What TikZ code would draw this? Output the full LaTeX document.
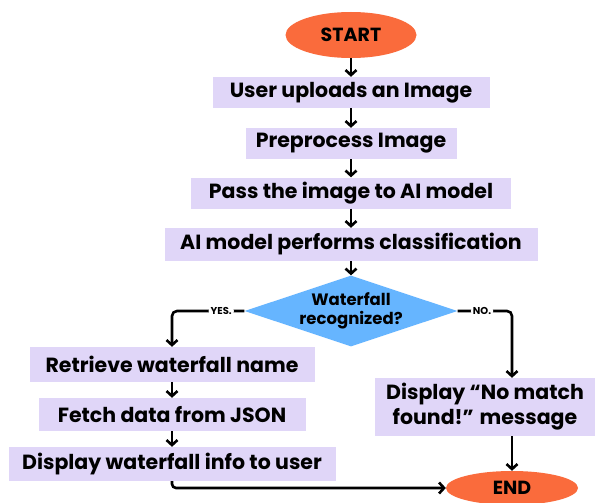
\documentclass[tikz,border=0pt]{standalone}
\usepackage{fontspec}
\setmainfont{Poppins}
\usepackage{xcolor}
\usepackage{tikz}
\usetikzlibrary{shapes.geometric, arrows.meta, positioning, calc}

\definecolor{termorange}{HTML}{FA6B3C}
\definecolor{proclav}{HTML}{E0D6F8}
\definecolor{decblue}{HTML}{66B5FF}

\tikzset{
  terminal/.style={ellipse, fill=termorange, inner sep=0pt, font=\fontsize{19}{22}\selectfont\bfseries},
  procbox/.style={rectangle, fill=proclav, inner sep=0pt, minimum height=31pt, font=\fontsize{20.5}{25}\selectfont\bfseries},
  decision/.style={diamond, aspect=3, fill=decblue, inner sep=0pt, minimum width=203pt, minimum height=67pt, align=center, font=\fontsize{16.5}{19}\selectfont\bfseries},
  flow/.style={draw=black, line width=2.6pt, -{Straight Barb[length=5pt,width=11pt]}},
  branch/.style={font=\fontsize{10}{11}\selectfont\bfseries, fill=white, inner sep=2pt}
}

\begin{document}
\begin{tikzpicture}[x=1pt, y=-1pt]
\useasboundingbox[fill=white] (0,0) rectangle (598,503);
% main column
\node[terminal, minimum width=131pt, minimum height=46pt] (start) at (351,35) {START};
\node[procbox, minimum width=277pt] (upload) at (351,92.5) {User uploads an Image};
\node[procbox, minimum width=211pt] (prep) at (351,143.5) {Preprocess Image};
\node[procbox, minimum width=320pt] (pass) at (351,193) {Pass the image to AI model};
\node[procbox, minimum width=373pt, minimum height=33pt] (classify) at (351,244.5) {AI model performs classification};
\node[decision] (recog) at (351,311) {Waterfall\\recognized?};
% yes branch
\node[procbox, minimum width=285pt, minimum height=35pt] (retrieve) at (172,364.5) {Retrieve waterfall name};
\node[procbox, minimum width=267pt, minimum height=33pt] (fetch) at (172,414.5) {Fetch data from JSON};
\node[procbox, minimum width=327pt, minimum height=34pt] (showinfo) at (172,464) {Display waterfall info to user};
% no branch
\node[procbox, minimum width=220pt, minimum height=58pt, align=center] (nomatch) at (485,407) {Display “No match\\found!” message};
\node[terminal, minimum width=132pt, minimum height=34pt] (finish) at (512,488) {END};

\draw[flow] (start) -- (upload);
\draw[flow] (upload) -- (prep);
\draw[flow] (prep) -- (pass);
\draw[flow] (pass) -- (classify);
\draw[flow] (classify) -- (recog);
\draw[flow, rounded corners=5pt] (recog.west) -- node[branch, pos=0.32] {YES.} (recog.west -| retrieve.north) -- (retrieve.north);
\draw[flow, rounded corners=5pt] (recog.east) -- node[branch, pos=0.45] {NO.} (recog.east -| finish.north) -- (nomatch.north -| finish.north);
\draw[flow] (retrieve) -- (fetch);
\draw[flow] (fetch) -- (showinfo);
\draw[flow] (nomatch.south -| finish.north) -- (finish.north);
\draw[flow, rounded corners=4pt] (showinfo.south) -- (showinfo.south |- finish.west) -- (finish.west);
\end{tikzpicture}
\end{document}
